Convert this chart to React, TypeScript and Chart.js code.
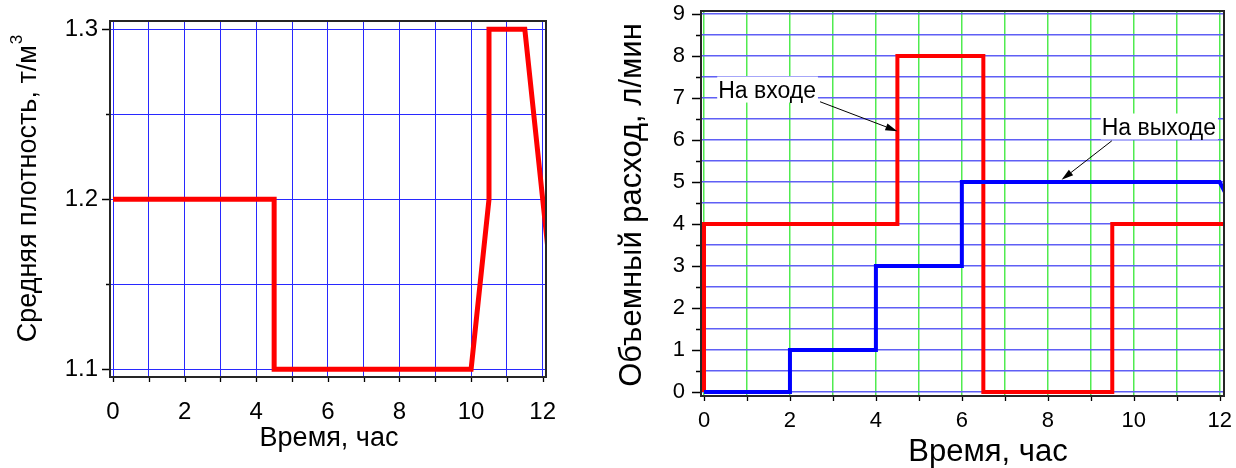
import React, { useEffect, useRef } from "react";
import { Chart, registerables } from "chart.js";

Chart.register(...registerables);

const FONT = '"Liberation Sans", Arial, "DejaVu Sans", sans-serif';

// ---------- Left chart: average density ----------
const densityTime = [0, 4.5, 4.5, 10, 10.5, 10.5, 11.5, 12.5];
const densityValue = [1.2, 1.2, 1.1, 1.1, 1.2, 1.3, 1.3, 1.1];
const densityXTicks = [0, 1, 2, 3, 4, 5, 6, 7, 8, 9, 10, 11, 12];
const densityXLabels = ["0", "", "2", "", "4", "", "6", "", "8", "", "10", "", "12"];
const densityYTicks = [1.1, 1.15, 1.2, 1.25, 1.3];
const densityYLabels = ["1.1", "", "1.2", "", "1.3"];
const densityXRange = [-0.084, 12.092];
const densityYRange = [1.0955, 1.3049];
const densityYTitle = "Средняя плотность, т/м";
const densityYTitleSup = "3";
const timeTitle = "Время, час";

// ---------- Right chart: volumetric flow ----------
const inletTime = [0, 0, 4.5, 4.5, 6.5, 6.5, 9.5, 9.5, 12.5];
const inletFlow = [0, 4, 4, 8, 8, 0, 0, 4, 4];
const outletTime = [0, 2, 2, 4, 4, 6, 6, 12, 12.5];
const outletFlow = [0, 0, 1, 1, 3, 3, 5, 5, 4];
const flowXTicks = [0, 1, 2, 3, 4, 5, 6, 7, 8, 9, 10, 11, 12];
const flowXLabels = ["0", "", "2", "", "4", "", "6", "", "8", "", "10", "", "12"];
const flowYTicks = [0, 0.5, 1, 1.5, 2, 2.5, 3, 3.5, 4, 4.5, 5, 5.5, 6, 6.5, 7, 7.5, 8, 8.5, 9];
const flowYLabels = ["0", "", "1", "", "2", "", "3", "", "4", "", "5", "", "6", "", "7", "", "8", "", "9"];
const flowXRange = [-0.07, 12.1];
const flowYRange = [-0.095, 9.07];
const flowYTitle = "Объемный расход, л/мин";
const inletLabel = "На входе";
const outletLabel = "На выходе";
// annotation anchors in data units: [textX, textY, tailX, tailY, headX, headY]
const inletAnno = [0.33, 7.2, 2.7, 6.91, 4.5, 6.21];
const outletAnno = [9.255, 6.32, 9.49, 5.98, 8.32, 5.05];

const H = 468;

function drawArrow(ctx: CanvasRenderingContext2D, x1: number, y1: number, x2: number, y2: number) {
  const ang = Math.atan2(y2 - y1, x2 - x1);
  const hl = 12;
  const hw = 3.5;
  const bx = x2 - hl * Math.cos(ang);
  const by = y2 - hl * Math.sin(ang);
  ctx.strokeStyle = "#000";
  ctx.fillStyle = "#000";
  ctx.lineWidth = 1;
  ctx.beginPath();
  ctx.moveTo(x1, y1);
  ctx.lineTo(bx, by);
  ctx.stroke();
  ctx.beginPath();
  ctx.moveTo(x2, y2);
  ctx.lineTo(bx + hw * Math.sin(ang), by - hw * Math.cos(ang));
  ctx.lineTo(bx - hw * Math.sin(ang), by + hw * Math.cos(ang));
  ctx.closePath();
  ctx.fill();
}

function drawTicksAndFrame(chart: any, xTicks: number[], yTicks: number[], yLabels: string[], xLen: number, yMajor: number, yMinor: number) {
  const { ctx, chartArea: a, scales } = chart;
  ctx.save();
  ctx.strokeStyle = "#000";
  ctx.lineWidth = 1.3;
  ctx.beginPath();
  for (const t of xTicks) {
    const px = Math.round(scales.x.getPixelForValue(t)) + 0.5;
    ctx.moveTo(px, a.bottom);
    ctx.lineTo(px, a.bottom + xLen);
  }
  yTicks.forEach((t, i) => {
    const py = Math.round(scales.y.getPixelForValue(t)) + 0.5;
    const len = yLabels[i] ? yMajor : yMinor;
    ctx.moveTo(a.left, py);
    ctx.lineTo(a.left - len, py);
  });
  ctx.stroke();
  ctx.strokeStyle = "#262626";
  ctx.lineWidth = 2;
  ctx.strokeRect(a.left, a.top, a.right - a.left, a.bottom - a.top);
  ctx.restore();
}

function makeDensityConfig(): any {
  const plugin = {
    id: "densityDecor",
    afterDraw(chart: any) {
      drawTicksAndFrame(chart, densityXTicks, densityYTicks, densityYLabels, 5, 8, 4);
      const ctx = chart.ctx;
      ctx.save();
      ctx.fillStyle = "#000";
      // x title
      ctx.font = `27px ${FONT}`;
      ctx.textAlign = "center";
      ctx.textBaseline = "middle";
      ctx.fillText(timeTitle, 329, 439);
      // y title with superscript
      ctx.translate(28.5, 189);
      ctx.rotate(-Math.PI / 2);
      ctx.font = `27px ${FONT}`;
      const wMain = ctx.measureText(densityYTitle).width;
      ctx.font = `17px ${FONT}`;
      const wSup = ctx.measureText(densityYTitleSup).width;
      const start = -(wMain + wSup) / 2;
      ctx.textAlign = "left";
      ctx.font = `27px ${FONT}`;
      ctx.fillText(densityYTitle, start, 0);
      ctx.font = `17px ${FONT}`;
      ctx.fillText(densityYTitleSup, start + wMain + 1, -11);
      ctx.restore();
    },
  };
  return {
    type: "line",
    data: {
      datasets: [
        {
          data: densityTime.map((t, i) => ({ x: t, y: densityValue[i] })),
          borderColor: "#ff0000",
          borderWidth: 5,
          pointRadius: 0,
          tension: 0,
          fill: false,
          borderJoinStyle: "miter",
          borderCapStyle: "butt",
        },
      ],
    },
    options: {
      animation: false,
      responsive: false,
      devicePixelRatio: 1,
      layout: { padding: { left: 0, top: 21, right: 560 - 546, bottom: 0 } },
      plugins: { legend: { display: false }, tooltip: { enabled: false }, title: { display: false } },
      scales: {
        x: {
          type: "linear",
          min: densityXRange[0],
          max: densityXRange[1],
          bounds: "data",
          afterBuildTicks: (s: any) => {
            s.ticks = densityXTicks.map((v) => ({ value: v }));
          },
          afterFit: (s: any) => {
            s.height = H - 377;
            s.paddingLeft = 0;
            s.paddingRight = 0;
          },
          grid: { color: "rgb(40,40,255)", lineWidth: 1, drawTicks: true, tickLength: 5, tickColor: "rgba(0,0,0,0)" },
          border: { display: false },
          ticks: {
            autoSkip: false,
            maxRotation: 0,
            padding: 16,
            color: "#000",
            font: { family: FONT, size: 24 },
            callback: (_v: any, i: number) => densityXLabels[i],
          },
        },
        y: {
          type: "linear",
          min: densityYRange[0],
          max: densityYRange[1],
          bounds: "data",
          afterBuildTicks: (s: any) => {
            s.ticks = densityYTicks.map((v) => ({ value: v }));
          },
          afterFit: (s: any) => {
            s.width = 110;
            s.paddingTop = 0;
            s.paddingBottom = 0;
          },
          grid: { color: "rgb(40,40,255)", lineWidth: 1, drawTicks: true, tickLength: 8, tickColor: "rgba(0,0,0,0)" },
          border: { display: false },
          ticks: {
            autoSkip: false,
            padding: 4,
            color: "#000",
            font: { family: FONT, size: 24 },
            callback: (_v: any, i: number) => densityYLabels[i],
          },
        },
      },
    },
    plugins: [plugin],
  };
}

function makeFlowConfig(): any {
  const plugin = {
    id: "flowDecor",
    afterDatasetsDraw(chart: any) {
      const { ctx, scales } = chart;
      ctx.save();
      ctx.font = `23px ${FONT}`;
      const capH = 23 * 0.716;
      const annos: [number[], string][] = [
        [inletAnno, inletLabel],
        [outletAnno, outletLabel],
      ];
      for (const [an, label] of annos) {
        const tx = scales.x.getPixelForValue(an[0]);
        const ty = scales.y.getPixelForValue(an[1]);
        const w = ctx.measureText(label).width;
        ctx.fillStyle = "#fff";
        ctx.fillRect(tx - 1, ty - 13, w + 3, 26);
        ctx.fillStyle = "#000";
        ctx.textAlign = "left";
        ctx.textBaseline = "alphabetic";
        ctx.fillText(label, tx, ty + capH / 2);
        drawArrow(
          ctx,
          scales.x.getPixelForValue(an[2]),
          scales.y.getPixelForValue(an[3]),
          scales.x.getPixelForValue(an[4]),
          scales.y.getPixelForValue(an[5])
        );
      }
      ctx.restore();
    },
    afterDraw(chart: any) {
      drawTicksAndFrame(chart, flowXTicks, flowYTicks, flowYLabels, 5, 9, 5);
      const ctx = chart.ctx;
      ctx.save();
      ctx.fillStyle = "#000";
      ctx.font = `31px ${FONT}`;
      ctx.textAlign = "center";
      ctx.textBaseline = "middle";
      ctx.fillText(timeTitle, 428, 452);
      ctx.translate(72.5, 205);
      ctx.rotate(-Math.PI / 2);
      ctx.fillText(flowYTitle, 0, 0);
      ctx.restore();
    },
  };
  return {
    type: "line",
    data: {
      datasets: [
        {
          data: outletTime.map((t, i) => ({ x: t, y: outletFlow[i] })),
          borderColor: "#0000ff",
          borderWidth: 4,
          pointRadius: 0,
          tension: 0,
          fill: false,
          borderJoinStyle: "miter",
          borderCapStyle: "butt",
        },
        {
          data: inletTime.map((t, i) => ({ x: t, y: inletFlow[i] })),
          borderColor: "#ff0000",
          borderWidth: 4,
          pointRadius: 0,
          tension: 0,
          fill: false,
          borderJoinStyle: "miter",
          borderCapStyle: "butt",
        },
      ],
    },
    options: {
      animation: false,
      responsive: false,
      devicePixelRatio: 1,
      layout: { padding: { left: 0, top: 11, right: 676 - 664, bottom: 0 } },
      plugins: { legend: { display: false }, tooltip: { enabled: false }, title: { display: false } },
      scales: {
        x: {
          type: "linear",
          min: flowXRange[0],
          max: flowXRange[1],
          bounds: "data",
          afterBuildTicks: (s: any) => {
            s.ticks = flowXTicks.map((v) => ({ value: v }));
          },
          afterFit: (s: any) => {
            s.height = H - 396;
            s.paddingLeft = 0;
            s.paddingRight = 0;
          },
          grid: { color: "rgb(80,235,80)", lineWidth: 1.5, drawTicks: true, tickLength: 5, tickColor: "rgba(0,0,0,0)" },
          border: { display: false },
          ticks: {
            autoSkip: false,
            maxRotation: 0,
            padding: 7,
            color: "#000",
            font: { family: FONT, size: 22 },
            callback: (_v: any, i: number) => flowXLabels[i],
          },
        },
        y: {
          type: "linear",
          min: flowYRange[0],
          max: flowYRange[1],
          bounds: "data",
          afterBuildTicks: (s: any) => {
            s.ticks = flowYTicks.map((v) => ({ value: v }));
          },
          afterFit: (s: any) => {
            s.width = 141;
            s.paddingTop = 0;
            s.paddingBottom = 0;
          },
          grid: { color: "rgb(95,95,245)", lineWidth: 1.5, drawTicks: true, tickLength: 8, tickColor: "rgba(0,0,0,0)" },
          border: { display: false },
          ticks: {
            autoSkip: false,
            padding: 8,
            color: "#000",
            font: { family: FONT, size: 22 },
            callback: (_v: any, i: number) => flowYLabels[i],
          },
        },
      },
    },
    plugins: [plugin],
  };
}

function ChartCanvas({ makeConfig, left, width }: { makeConfig: () => any; left: number; width: number }) {
  const ref = useRef<HTMLCanvasElement>(null);
  useEffect(() => {
    const chart = new Chart(ref.current as HTMLCanvasElement, makeConfig());
    return () => chart.destroy();
  }, [makeConfig]);
  return (
    <canvas
      ref={ref}
      width={width}
      height={H}
      style={{ position: "absolute", left, top: 0, width, height: H, display: "block" }}
    />
  );
}

export default function App() {
  return (
    <div
      style={{
        position: "fixed",
        left: 0,
        top: 0,
        width: 1236,
        height: H,
        background: "#fff",
        overflow: "hidden",
      }}
    >
      <ChartCanvas makeConfig={makeDensityConfig} left={0} width={560} />
      <ChartCanvas makeConfig={makeFlowConfig} left={560} width={676} />
    </div>
  );
}
